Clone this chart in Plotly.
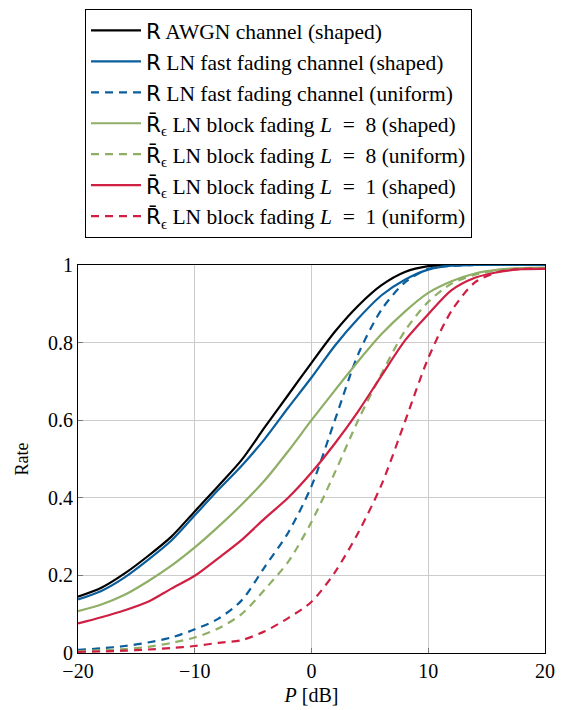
import plotly.graph_objects as go

P_dB = [-20, -18, -16, -14, -12, -10, -8, -6, -4, -2, 0, 2, 4, 6, 8, 10, 12, 14, 16, 18, 20]

awgn_shaped = [0.145, 0.168, 0.205, 0.25, 0.30, 0.365, 0.43, 0.497, 0.582, 0.665, 0.748, 0.828, 0.895, 0.948, 0.982, 0.997, 1.0, 1.0, 1.0, 1.0, 1.0]
fast_shaped = [0.138, 0.160, 0.195, 0.24, 0.29, 0.355, 0.42, 0.482, 0.552, 0.632, 0.71, 0.792, 0.862, 0.922, 0.962, 0.988, 0.998, 1.0, 1.0, 1.0, 1.0]
fast_uniform = [0.008, 0.012, 0.018, 0.027, 0.040, 0.061, 0.088, 0.135, 0.222, 0.31, 0.43, 0.60, 0.77, 0.885, 0.955, 0.99, 0.998, 1.0, 1.0, 1.0, 1.0]
block8_shaped = [0.108, 0.125, 0.150, 0.185, 0.225, 0.272, 0.325, 0.382, 0.445, 0.52, 0.60, 0.677, 0.752, 0.822, 0.88, 0.928, 0.958, 0.978, 0.988, 0.992, 0.993]
block8_uniform = [0.005, 0.007, 0.010, 0.016, 0.026, 0.040, 0.063, 0.100, 0.164, 0.235, 0.338, 0.465, 0.60, 0.72, 0.83, 0.905, 0.952, 0.975, 0.987, 0.99, 0.99]
block1_shaped = [0.076, 0.092, 0.110, 0.132, 0.166, 0.199, 0.244, 0.291, 0.347, 0.40, 0.465, 0.54, 0.623, 0.715, 0.805, 0.873, 0.935, 0.967, 0.982, 0.989, 0.99]
block1_uniform = [0.003, 0.004, 0.006, 0.009, 0.013, 0.018, 0.026, 0.033, 0.056, 0.09, 0.132, 0.208, 0.31, 0.434, 0.596, 0.76, 0.882, 0.955, 0.982, 0.99, 0.99]

x_ticks = [-20, -10, 0, 10, 20]
x_tick_labels = ["−20", "−10", "0", "10", "20"]
y_ticks = [0, 0.2, 0.4, 0.6, 0.8, 1]
y_tick_labels = ["0", "0.2", "0.4", "0.6", "0.8", "1"]

BLACK = "#000000"
BLUE = "#0b5e9c"
GREEN = "#8fae66"
RED = "#cf1f43"
DASH = "8px,6px"

SANS = "<span style='font-family:\"DejaVu Sans\"'>R</span>"
RBAR = "<span style='font-family:\"DejaVu Sans\"'>R̄</span><sub>ϵ</sub>"
EQ = "\u2002=\u2002"

series = [
    (awgn_shaped, f"{SANS} AWGN channel (shaped)", BLACK, "solid"),
    (fast_shaped, f"{SANS} LN fast fading channel (shaped)", BLUE, "solid"),
    (fast_uniform, f"{SANS} LN fast fading channel (uniform)", BLUE, DASH),
    (block8_shaped, f"{RBAR} LN block fading <i>L</i>{EQ}8 (shaped)", GREEN, "solid"),
    (block8_uniform, f"{RBAR} LN block fading <i>L</i>{EQ}8 (uniform)", GREEN, DASH),
    (block1_shaped, f"{RBAR} LN block fading <i>L</i>{EQ}1 (shaped)", RED, "solid"),
    (block1_uniform, f"{RBAR} LN block fading <i>L</i>{EQ}1 (uniform)", RED, DASH),
]

fig = go.Figure()
for i, (vals, name, color, dash) in enumerate(series):
    fig.add_trace(go.Scatter(
        x=P_dB, y=vals, mode="lines", name=name, legendgroup=f"g{i}",
        line=dict(color=color, width=2.2, dash=dash, shape="spline", smoothing=0.8),
    ))

FONT = "Liberation Serif"
fig.update_layout(
    width=562, height=702,
    margin=dict(l=70, r=25, t=257, b=57, autoexpand=False),
    paper_bgcolor="white", plot_bgcolor="white",
    font=dict(family=FONT, size=19, color="black"),
    showlegend=True,
    legend=dict(
        x=0.015, y=1.66, xanchor="left", yanchor="top",
        bordercolor="black", borderwidth=1, bgcolor="white",
        font=dict(family=FONT, size=21.5, color="black"),
        tracegroupgap=0, itemwidth=50,
    ),
    xaxis=dict(
        range=[-20, 20], tickvals=x_ticks, ticktext=x_tick_labels,
        showgrid=True, gridcolor="#cccccc", gridwidth=1,
        showline=True, linecolor="black", linewidth=1.2, mirror=True,
        ticks="inside", ticklen=5, tickcolor="#777777",
        zeroline=False,
        title=dict(text="<i>P</i> [dB]", font=dict(family=FONT, size=20), standoff=6),
        tickfont=dict(family=FONT, size=20),
    ),
    yaxis=dict(
        range=[0, 1], tickvals=y_ticks, ticktext=y_tick_labels,
        showgrid=True, gridcolor="#cccccc", gridwidth=1,
        showline=True, linecolor="black", linewidth=1.2, mirror=True,
        ticks="inside", ticklen=5, tickcolor="#777777",
        zeroline=False,
        title=dict(text="Rate", font=dict(family=FONT, size=18), standoff=14),
        tickfont=dict(family=FONT, size=20),
    ),
)

fig.write_html("out.html")
